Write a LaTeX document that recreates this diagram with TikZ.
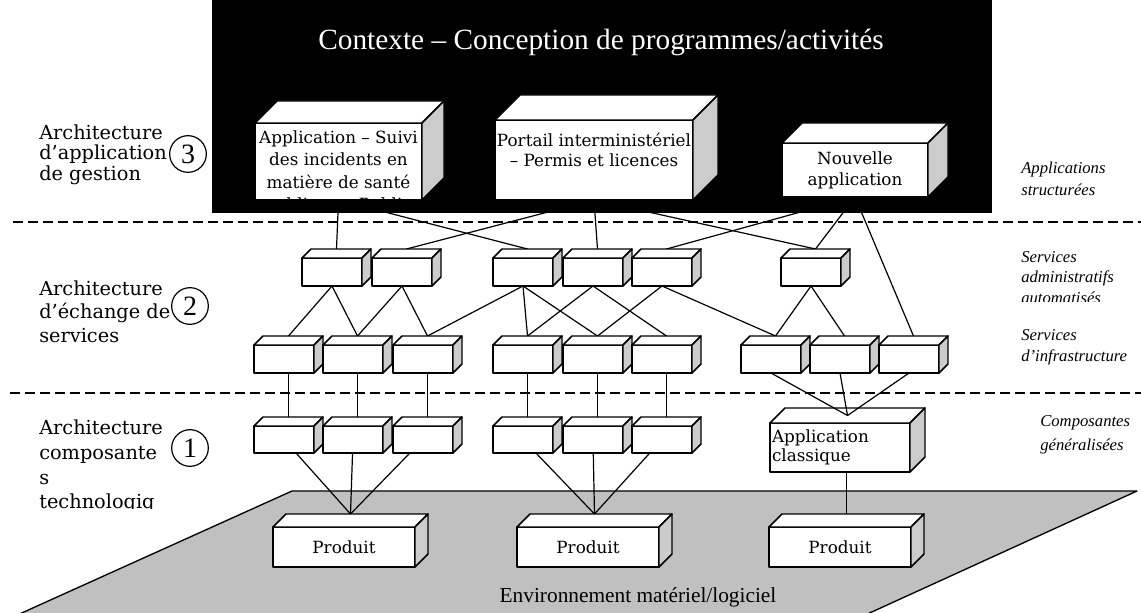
\documentclass[tikz,border=0pt]{standalone}
\usepackage{fontspec}
\setmainfont{Liberation Serif}
\newfontfamily\slab{DejaVu Serif}
\usetikzlibrary{calc}
\definecolor{ink}{HTML}{000000}
\definecolor{sidegray}{HTML}{CCCCCC}
\definecolor{floorgray}{HTML}{C0C0C0}
\pgfdeclarelayer{floor}
\pgfdeclarelayer{wires}
\pgfdeclarelayer{frame}
\pgfsetlayers{floor,wires,frame,main}
\tikzset{
  face/.style={draw=ink, line width=1.1pt, line join=round, inner sep=0pt, outer sep=0pt},
  wire/.style={ink, line width=0.9pt, line cap=round},
  sep/.style={ink, line width=1.3pt, dash pattern=on 7.5pt off 3.75pt},
  boxtxt/.style={font=\slab\fontsize{12.6}{15}\selectfont, align=center},
  lay/.style={font=\slab\fontsize{14.5}{15.4}\selectfont, align=left, anchor=west, inner sep=0pt},
  note/.style={font=\itshape\fontsize{12.5}{15.5}\selectfont, align=left, anchor=west, inner sep=0pt},
  num/.style={circle, draw=ink, line width=0.9pt, minimum size=27.5pt, inner sep=0pt, font=\fontsize{21}{21}\selectfont},
}
\newcommand\blockcube[7][]{%
  \node[face, fill=white, boxtxt, minimum width=#4*0.75pt, minimum height=#5*0.75pt, #1] (#2) at (#3) {#7};
  \draw[face, fill=white] (#2.north west) -- ++(#6,-#6) -- ++(#4,0) -- (#2.north east) -- cycle;
  \draw[face, fill=sidegray] (#2.north east) -- ++(#6,-#6) -- ++(0,#5) -- (#2.south east) -- cycle;
  \coordinate (#2-t) at ($(#2.north)+(#6/2,-#6)$);
  \coordinate (#2-m) at ($(#2.north)+(#6/2,-#6/2)$);
}

\begin{document}
\begin{tikzpicture}[x=0.75pt, y=-0.75pt]
  \useasboundingbox (0,0) rectangle (1141,613);
  \begin{pgfonlayer}{floor}
    \filldraw[fill=floorgray, draw=ink, line width=1pt, line join=round] (15,616) -- (292,491) -- (1137,491) -- (863,616);
    \node[font=\fontsize{16}{18}\selectfont] (env) at (638,597) {Environnement matériel/logiciel};
  \end{pgfonlayer}
  \begin{pgfonlayer}{frame}
    \node[fill=ink, inner sep=0pt, minimum width=780*0.75pt, minimum height=214*0.75pt] (ctx) at (602,106) {};
  \end{pgfonlayer}
  \node[text=white, font=\fontsize{22}{26}\selectfont] (title) at (601,42) {Contexte – Conception de programmes/activités};

  \blockcube[path picture={\node[boxtxt, font=\slab\fontsize{12.6}{16.9}\selectfont] at ($(path picture bounding box.center)+(0,11)$) {Application – Suivi\\des incidents en\\matière de santé\\publique – Public};}]{suivi}{338.5,161.5}{167}{77}{22}{}
  \blockcube[path picture={\node[boxtxt] at ($(path picture bounding box.center)+(0,-10.5)$) {Portail interministériel\\– Permis et licences};}]{portail}{594,160}{198}{80}{25}{}
  \blockcube[font=\slab\fontsize{12.6}{15.75}\selectfont]{nouvelle}{855,170}{146}{54}{20}{Nouvelle\\application}

  \foreach \x [count=\i] in {332,402,523,593,662,811} {\blockcube{sa\i}{\x,272}{60}{28}{9}{}}
  \foreach \x [count=\i] in {284,353,423,523,593,662,771,840,909} {\blockcube{si\i}{\x,359}{60}{28}{9}{}}
  \foreach \x [count=\i] in {284,353,423,523,593,662} {\blockcube{gc\i}{\x,439.5}{60}{27}{9}{}}
  \blockcube[align=left, text width=102pt, font=\slab\fontsize{12.6}{14.3}\selectfont]{classique}{840,447.5}{140}{49}{15}{Application\\classique}
  \foreach \x [count=\i] in {344,588,840} {\blockcube{p\i}{\x,547}{142}{40}{13}{Produit}}

  \begin{pgfonlayer}{wires}
    \foreach \a/\b in {suivi/sa1,suivi/sa3,portail/sa2,portail/sa4,portail/sa6,nouvelle/sa5,nouvelle/sa6,nouvelle/si9,
        sa1/si1,sa1/si2,sa2/si2,sa2/si3,sa3/si3,sa3/si4,sa3/si5,sa4/si4,sa4/si6,sa5/si5,sa5/si7,sa6/si7,sa6/si8}
      \draw[wire] (\a.south) -- (\b-t);
    \foreach \i/\p in {1/1,2/1,3/1,4/2,5/2,6/2} \draw[wire] (gc\i) -- (p\p-t);
    \foreach \i in {1,...,6} \draw[wire] (gc\i-t) -- (gc\i-t |- si\i.south);
    \draw[wire] (p3-t) -- (p3-t |- classique.south);
  \end{pgfonlayer}
  \foreach \i in {7,8,9} \draw[wire] (si\i.south) -- (classique-m);

  \draw[sep] (13,222) -- (1141,222);
  \draw[sep] (10,393) -- (1141,393);

  \node[lay] (lay3) at (39,154.7) {Architecture\\d’application\\de gestion};
  \node[lay, font=\slab\fontsize{14.5}{17.6}\selectfont] (lay2) at (39,311.5) {Architecture\\d’échange de\\services};
  \begin{scope}
    \clip (30,405) rectangle (170,508);
    \node[lay, font=\slab\fontsize{14.5}{18.4}\selectfont, anchor=north west] (lay1) at (39,420) {Architecture\\composante\\s\\technologiq\\ues};
  \end{scope}
  \node[num] (n3) at (188,154) {3};
  \node[num] (n2) at (190,306) {2};
  \node[num] (n1) at (190,448) {1};

  \node[note, font=\itshape\fontsize{12.5}{16.5}\selectfont] (tier3) at (1021,179) {Applications\\structurées};
  \begin{scope}
    \clip (1010,240) rectangle (1141,301);
    \node[note, font=\itshape\fontsize{12.5}{15.4}\selectfont] (tier2a) at (1021,277.5) {Services\\administratifs\\automatisés};
  \end{scope}
  \node[note, font=\itshape\fontsize{12.5}{15.75}\selectfont] (tier2b) at (1021,347.5) {Services\\d’infrastructure};
  \node[note, font=\itshape\fontsize{12.5}{18}\selectfont] (tier1) at (1040,435) {Composantes\\généralisées};
\end{tikzpicture}
\end{document}
